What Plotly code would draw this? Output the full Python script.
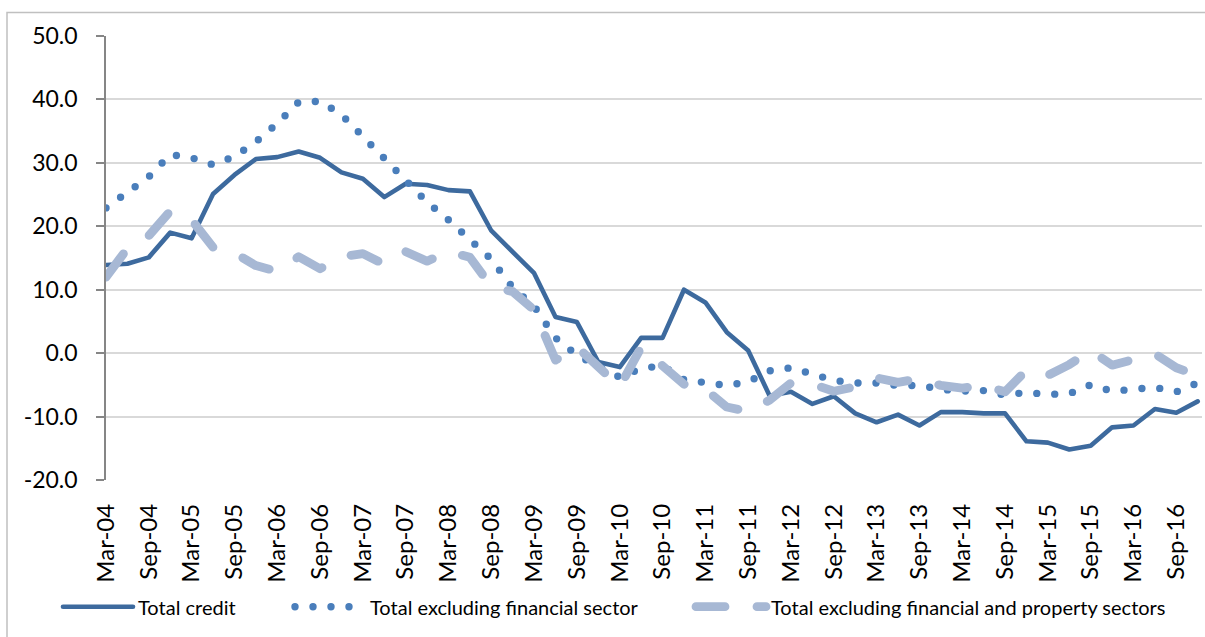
import plotly.graph_objects as go

# ---------------- data ----------------
years = ["04", "05", "06", "07", "08", "09", "10", "11", "12", "13", "14", "15", "16"]
months = ["Mar", "Jun", "Sep", "Dec"]
quarters = [f"{m}-{y}" for y in years for m in months]

tick_labels = ["Mar-04", "Sep-04", "Mar-05", "Sep-05", "Mar-06", "Sep-06", "Mar-07",
               "Sep-07", "Mar-08", "Sep-08", "Mar-09", "Sep-09", "Mar-10", "Sep-10",
               "Mar-11", "Sep-11", "Mar-12", "Sep-12", "Mar-13", "Sep-13", "Mar-14",
               "Sep-14", "Mar-15", "Sep-15", "Mar-16", "Sep-16"]

y_tick_values = [-20, -10, 0, 10, 20, 30, 40, 50]
y_tick_labels = ["-20.0", "-10.0", "0.0", "10.0", "20.0", "30.0", "40.0", "50.0"]

total_credit = [13.9, 14.1, 15.1, 19.0, 18.1, 25.1, 28.1, 30.6, 30.9, 31.8,
                30.8, 28.5, 27.5, 24.6, 26.7, 26.5, 25.7, 25.5, 19.3, 15.9,
                12.6, 5.7, 4.9, -1.4, -2.2, 2.4, 2.4, 10.0, 8.0, 3.3,
                0.4, -6.7, -6.1, -8.0, -6.8, -9.5, -10.9, -9.7, -11.4, -9.3,
                -9.3, -9.5, -9.5, -13.9, -14.1, -15.2, -14.6, -11.7, -11.4, -8.8,
                -9.4, -7.6]

excl_financial = [22.9, 25.3, 27.8, 31.3, 30.8, 29.7, 31.0, 33.3, 36.2, 39.6,
                  39.7, 37.6, 34.2, 31.0, 27.4, 23.8, 21.0, 17.7, 14.8, 10.3,
                  7.4, 2.4, -0.3, -2.1, -3.8, -2.4, -2.0, -4.2, -4.6, -5.1,
                  -4.5, -2.8, -2.3, -3.2, -4.3, -4.7, -4.7, -5.1, -5.1, -5.7,
                  -6.0, -5.9, -6.6, -6.2, -6.5, -6.4, -5.0, -6.0, -5.6, -5.4,
                  -6.1, -4.7]

excl_fin_property = [12.0, 16.5, 18.5, 22.4, 21.0, 16.7, 15.8, 13.8, 12.9, 15.2,
                     13.3, 15.2, 15.7, 14.0, 16.0, 14.5, 16.0, 15.1, 10.5, 9.7,
                     6.8, -1.1, 1.0, -2.0, -5.3, 0.9, -2.2, -4.9, -5.7, -8.5,
                     -9.2, -7.4, -4.7, -4.9, -6.0, -5.3, -3.9, -4.6, -4.0, -5.1,
                     -5.5, -5.1, -6.1, -2.7, -3.5, -1.8, 0.4, -1.9, -1.0, -0.1,
                     -2.3, -3.5]

series_names = ["Total credit", "Total excluding financial sector",
                "Total excluding financial and property sectors"]

# ---------------- styling ----------------
FONT = "Lato"
C_SOLID = "rgb(61,106,158)"
C_DOT = "rgb(74,126,187)"
C_DASH = "rgb(167,184,212)"
GRID = "#d9d9d9"
AXIS = "#868686"

W, H = 1205, 637
ML, MR, MT, MB = 106, 3, 36, 157
PW = W - ML - MR
PH = H - MT - MB


def px_x(p):
    return (p - ML) / PW


def px_y(p):
    return (H - MB - p) / PH


fig = go.Figure()

fig.add_trace(go.Scatter(
    x=quarters, y=total_credit, name=series_names[0], mode="lines",
    line=dict(color=C_SOLID, width=4.6), legend="legend", showlegend=True))

fig.add_trace(go.Scatter(
    x=quarters, y=excl_financial, name=series_names[1], mode="lines",
    line=dict(color=C_DOT, width=7.4, dash="0px,18px"), legend="legend2",
    showlegend=True))

fig.add_trace(go.Scatter(
    x=quarters, y=excl_fin_property, name=series_names[2], mode="lines",
    line=dict(color=C_DASH, width=8.8, dash="29px,32px"), legend="legend3",
    showlegend=True))

legend_common = dict(orientation="h", yanchor="middle", xanchor="left",
                     y=px_y(606.7), itemwidth=70,
                     font=dict(family=FONT, size=20, color="#000000"),
                     bgcolor="rgba(0,0,0,0)", borderwidth=0)

fig.update_layout(
    width=W, height=H, showlegend=True,
    margin=dict(l=ML, r=MR, t=MT, b=MB, pad=0),
    paper_bgcolor="white", plot_bgcolor="white",
    font=dict(family=FONT, color="#000000"),
    legend=dict(legend_common, x=px_x(58)),
    legend2=dict(legend_common, x=px_x(290)),
    legend3=dict(legend_common, x=px_x(691)),
    xaxis=dict(
        type="category", categoryorder="array", categoryarray=quarters,
        range=[0, 51.2], tickmode="array", tickvals=tick_labels, ticktext=tick_labels,
        tickangle=-90, ticks="", showgrid=False, showline=False, zeroline=False,
        tickfont=dict(family=FONT, size=24, color="#000000"),
        ticklabelstandoff=18,
    ),
    xaxis2=dict(
        type="category", categoryorder="array", categoryarray=quarters,
        overlaying="x", anchor="free", position=20 / 70,
        range=[0, 51.2], tickmode="array", tickvals=tick_labels,
        showticklabels=False, ticks="outside", ticklen=9, tickwidth=1.5,
        tickcolor=AXIS, showline=True, linecolor=AXIS, linewidth=1.5,
        showgrid=False, zeroline=False,
    ),
    yaxis=dict(
        range=[-20, 50], tickmode="array", tickvals=y_tick_values,
        ticktext=y_tick_labels,
        showgrid=True, gridcolor=GRID, gridwidth=1.5, zeroline=False,
        showline=True, linecolor=AXIS, linewidth=1.5,
        ticks="outside", ticklen=8, tickwidth=1.5, tickcolor=AXIS,
        tickfont=dict(family=FONT, size=23, color="#000000"),
        ticklabelstandoff=14,
    ),
    shapes=[dict(type="rect", xref="paper", yref="paper",
                 x0=px_x(7), x1=px_x(1215), y0=px_y(650), y1=px_y(12.5),
                 line=dict(color="#c0c0c0", width=1.5), fillcolor="rgba(0,0,0,0)",
                 layer="below")],
)

post = """
var st=document.createElement('style');
st.textContent='html,body{margin:0;padding:0;overflow:hidden;} .js-line{stroke-linecap:round;stroke-linejoin:round;}';
document.head.appendChild(st);
"""

fig.write_html("out.html", post_script=post, config={"displayModeBar": False})
